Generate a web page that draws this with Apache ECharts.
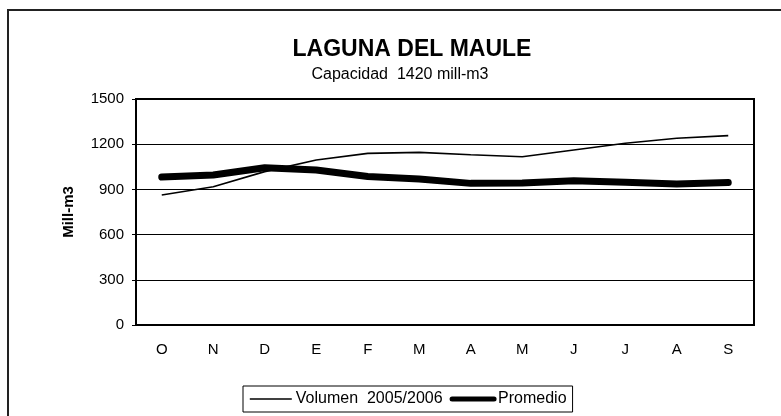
<!DOCTYPE html>
<html>
<head>
<meta charset="utf-8">
<script src="https://cdn.jsdelivr.net/npm/echarts@6/dist/echarts.min.js"></script>
<style>
html,body{margin:0;padding:0;background:#fff;}
#chart{width:781px;height:416px;}
</style>
</head>
<body>
<div id="chart"></div>
<script>
const categories = ['O','N','D','E','F','M','A','M','J','J','A','S'];
const volumen = [863, 918, 1018, 1095, 1139, 1146, 1130, 1117, 1161, 1206, 1239, 1257];
const promedio = [982, 995, 1044, 1029, 985, 969, 940, 942, 958, 947, 936, 945];
const yTicks = [0, 300, 600, 900, 1200, 1500];

const FONT = '"Liberation Sans", Arial, Helvetica, sans-serif';
const chart = echarts.init(document.getElementById('chart'), null, {renderer: 'canvas'});
chart.setOption({
  animation: false,
  backgroundColor: '#fff',
  textStyle: {fontFamily: FONT, color: '#000'},
  graphic: [{
    type: 'rect', shape: {x: 8, y: 10, width: 900, height: 500},
    style: {fill: 'none', stroke: '#222', lineWidth: 2}, silent: true, z: -1
  }],
  title: [
    {text: 'LAGUNA DEL MAULE', left: 407, top: 33, textAlign: 'center',
     textStyle: {fontFamily: FONT, fontSize: 23, fontWeight: 'bold', color: '#000'}},
    {text: 'Capacidad  1420 mill-m3', left: 395, top: 62, textAlign: 'center',
     textStyle: {fontFamily: FONT, fontSize: 16, fontWeight: 'normal', color: '#000'}}
  ],
  legend: {
    left: 243, top: 386, orient: 'horizontal',
    borderColor: '#000', borderWidth: 1, padding: [5, 6, 5, 6],
    itemWidth: 42, itemHeight: 14, itemGap: 7,
    itemStyle: {color: 'rgba(0,0,0,0)', borderWidth: 0, opacity: 0},
    textStyle: {fontFamily: FONT, fontSize: 16, color: '#000', padding: [0, 0, 0, -1]},
    data: [
      {name: 'Volumen  2005/2006', lineStyle: {width: 1.6, color: '#000'}},
      {name: 'Promedio', lineStyle: {width: 5, color: '#000', cap: 'round'}}
    ]
  },
  grid: {left: 136, right: 27, top: 99, bottom: 91, show: true, borderColor: '#000', borderWidth: 2},
  xAxis: {
    type: 'category', data: categories, boundaryGap: true,
    axisLine: {lineStyle: {color: '#000', width: 2}},
    axisTick: {inside: true, length: 4, lineStyle: {color: '#000', width: 1.5}},
    axisLabel: {fontFamily: FONT, fontSize: 15, color: '#000', margin: 17}
  },
  yAxis: {
    type: 'value', min: yTicks[0], max: yTicks[yTicks.length - 1], interval: 300,
    name: 'Mill-m3', nameLocation: 'middle', nameGap: 60, nameRotate: 90,
    nameTextStyle: {fontFamily: FONT, fontSize: 15, fontWeight: 'bold', color: '#000'},
    axisLine: {show: true, lineStyle: {color: '#000', width: 1.5}},
    axisTick: {show: true, length: 4, lineStyle: {color: '#000', width: 1}},
    axisLabel: {fontFamily: FONT, fontSize: 15, color: '#000', margin: 12,
                formatter: function (v) { return String(v); }},
    splitLine: {show: true, lineStyle: {color: '#000', width: 1}}
  },
  series: [
    {name: 'Volumen  2005/2006', type: 'line', data: volumen, symbol: 'none',
     lineStyle: {color: '#000', width: 1.6}, itemStyle: {color: '#000'}},
    {name: 'Promedio', type: 'line', data: promedio, symbol: 'none',
     lineStyle: {color: '#000', width: 7, cap: 'round', join: 'round'}, itemStyle: {color: '#000'}}
  ]
});
</script>
</body>
</html>
